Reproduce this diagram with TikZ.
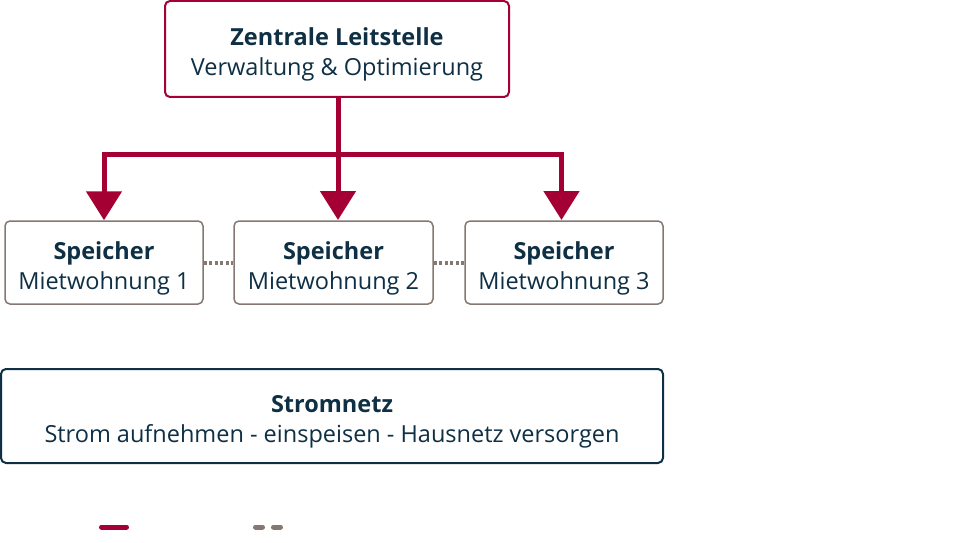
\documentclass[tikz,border=0pt]{standalone}
\usepackage{fontspec}
\setmainfont{Open Sans}
\usetikzlibrary{arrows.meta}
\definecolor{crim}{HTML}{A50034}
\definecolor{navy}{HTML}{0E2F44}
\definecolor{stone}{HTML}{857872}
\newcommand{\lowerby}[1]{\rule{0pt}{#1}}
\begin{document}
\begin{tikzpicture}[x=1pt,y=-1pt,
  box/.style={draw, rounded corners=5pt, fill=white, text=navy, align=center,
    font=\fontsize{23.5}{30}\selectfont, inner sep=0pt},
  topbox/.style={box, draw=crim, line width=2pt, minimum width=344pt, minimum height=96pt},
  storebox/.style={box, draw=stone, line width=1.5pt, minimum width=198pt, minimum height=83pt},
  gridbox/.style={box, draw=navy, line width=2pt, minimum width=662pt, minimum height=94pt},
  feed/.style={crim, line width=5pt},
  feedarrow/.style={feed, -{Triangle[length=29pt,width=35pt]}},
  link/.style={stone, line width=4pt, dash pattern=on 3pt off 2.5pt}
]
\useasboundingbox (0,0) rectangle (970,543);
\node[topbox] (zl) at (337,49) {\lowerby{29pt}\textbf{Zentrale Leitstelle}\\Verwaltung \& Optimierung};
\node[storebox] (s1) at (104,262.5) {\lowerby{29pt}\textbf{Speicher}\\Mietwohnung 1};
\node[storebox, minimum width=199pt] (s2) at (333.5,262.5) {\lowerby{29pt}\textbf{Speicher}\\Mietwohnung 2};
\node[storebox] (s3) at (564,262.5) {\lowerby{29pt}\textbf{Speicher}\\Mietwohnung 3};
\node[gridbox] (sn) at (332,416) {\lowerby{29pt}\textbf{Stromnetz}\\Strom aufnehmen - einspeisen - Hausnetz versorgen};
% feed lines
\coordinate (bar) at (338,154.5);
\coordinate (t2) at (338,220);
\coordinate (t3) at (561.5,220);
\draw[feed] ([xshift=1pt]zl.south) -- (bar);
\draw[feedarrow] (bar) -| (s1.north);
\draw[feedarrow] (bar) -- (t2);
\draw[feedarrow] (bar) -| (t3);
% links
\draw[link] (s1.east) -- (s2.west);
\draw[link] (s2.east) -- (s3.west);
% legend samples
\draw[crim, line width=5pt, line cap=round] (101.5,527) -- (126.5,527);
\draw[stone, line width=5pt, line cap=round] (255.5,527) -- (262.5,527);
\draw[stone, line width=5pt, line cap=round] (273.5,527) -- (280.5,527);
\end{tikzpicture}
\end{document}
